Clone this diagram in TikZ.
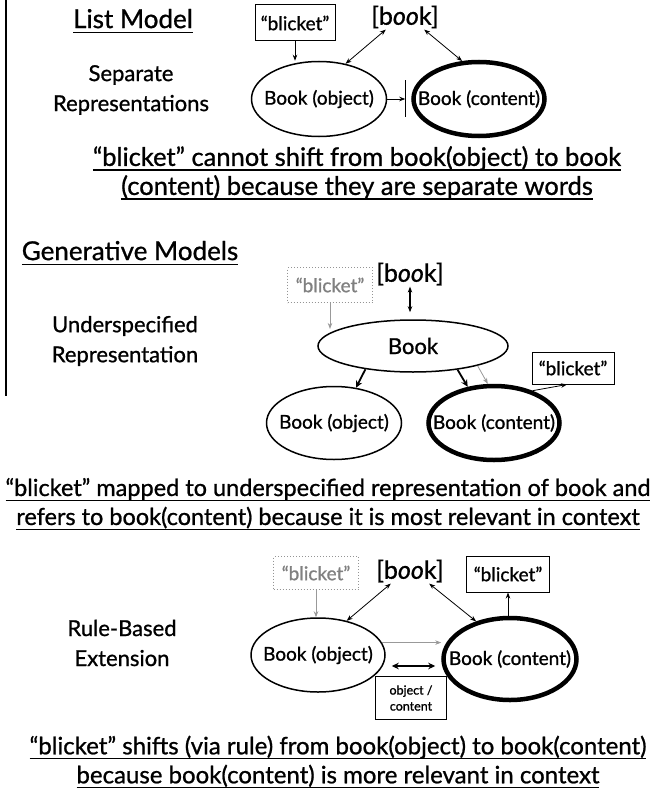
\documentclass[tikz,border=0pt]{standalone}
\usepackage{fontspec}
\setmainfont{Lato}[FakeBold=0.9]
\usetikzlibrary{shapes.geometric,arrows.meta,calc}

% underline at a fixed depth below the baseline
\newlength{\ulwidth}
\newcommand{\uln}[1]{\settowidth{\ulwidth}{#1}\rlap{\rule[-5pt]{\ulwidth}{1.4pt}}#1}

\tikzset{
  heading/.style={font=\fontsize{26}{30}\selectfont, align=center},
  label/.style={font=\fontsize{22}{30}\selectfont, align=center},
  captxt/.style={font=\fontsize{#1}{29}\selectfont, align=center},
  ell/.style={ellipse, draw, line width=1.5pt, inner xsep=-18pt, inner ysep=-4pt,
              font=\fontsize{19}{21}\selectfont},
  thickell/.style={ell, line width=4.5pt},
  word/.style={draw, line width=1pt, inner sep=0pt,
               font=\fontsize{19}{21}\selectfont},
  ghost/.style={word, draw=black!42, dotted, text=black!50},
  concept/.style={inner sep=1pt, font=\fontsize{25}{27}\selectfont},
  arr/.style={-{Stealth[length=6pt,width=4.5pt]}, line width=0.8pt},
  darr/.style={{Stealth[length=6pt,width=4.5pt]}-{Stealth[length=6pt,width=4.5pt]}, line width=0.8pt},
  garr/.style={arr, draw=black!40},
  heavy/.style={-{Stealth[length=7pt,width=6.5pt]}, line width=1.8pt},
}

\begin{document}
\begin{tikzpicture}[x=1pt, y=-1pt]
\useasboundingbox (0,0) rectangle (654,792);

% margin rule on the left
\draw[line width=1.4pt] (6,0) -- (6,396);

% ---------------- List model ----------------
\node[heading] (t1) at (133,21) {\uln{List Model}};
\node[label] (s1) at (131,90) {Separate\\Representations};

\node[word, minimum width=80pt, minimum height=36pt] (bl1) at (295,23) {“blicket”};
\node[concept] (bk1) at (405,17) {[b\textit{oo}k]};
\node[ell, minimum width=135pt, minimum height=75pt] (obj1) at (319,99) {Book (object)};
\node[thickell, minimum width=131pt, minimum height=74pt] (con1) at (479,99) {Book (content)};

\draw[arr] (bl1.south) -- (bl1.south |- obj1.north);
\draw[darr] ($(bk1.south)!0.55!(bk1.south west)$) -- (obj1.53);
\draw[darr] ($(bk1.south)!0.55!(bk1.south east)$) -- (con1.114);
\coordinate (stop1) at ($(obj1.east)+(18,0)$);
\draw[arr] (obj1.east) -- (stop1);
\draw[line width=1.4pt] ($(stop1)+(0,-19)$) -- ($(stop1)+(0,18)$);

\node[captxt=25.5] (c1) at (357,173) {\uln{“blicket” cannot shift from book(object) to book}\\\uln{(content) because they are separate words}};

% ---------------- Generative models ----------------
\node[heading] (t2) at (130,253) {\uln{Generative Models}};
\node[label] (s2) at (125,341) {Underspecified\\Representation};

\node[ghost, minimum width=85pt, minimum height=35pt] (gbl2) at (330,285) {“blicket”};
\node[concept] (bk2) at (410,274) {[b\textit{oo}k]};
\node[ell, font=\fontsize{22}{24}\selectfont, minimum width=190pt, minimum height=52pt] (bookU) at (413,346) {Book};
\node[ell, minimum width=135pt, minimum height=73pt] (obj2) at (334,423) {Book (object)};
\node[thickell, minimum width=131pt, minimum height=74pt] (con2) at (494,423) {Book (content)};
\node[word, minimum width=82pt, minimum height=32pt] (bl2) at (573,368) {“blicket”};

\draw[darr, line width=1.2pt, shorten >=7pt] (bk2.south) -- (bk2.south |- bookU.north);
\draw[garr] (gbl2.south) -- (gbl2.south |- bookU.167);
\draw[heavy] (bookU.206) -- (obj2.58);
\draw[heavy] (bookU.332) -- (con2.126);
\draw[garr] (bookU.343) -- (con2.99);
\draw[arr] (con2.40) -- (bl2.-110);

\node[captxt=23.5] (c2) at (328,504) {\uln{“blicket” mapped to underspecified representation of book and}\\\uln{refers to book(content) because it is most relevant in context}};

% ---------------- Rule-based extension ----------------
\node[label] (s3) at (122,643) {Rule-Based\\Extension};

\node[ghost, minimum width=85pt, minimum height=33pt] (gbl3) at (316,573) {“blicket”};
\node[concept] (bk3) at (410,571) {[b\textit{oo}k]};
\node[word, minimum width=83pt, minimum height=36pt] (bl3) at (508,574) {“blicket”};
\node[ell, minimum width=134pt, minimum height=74pt] (obj3) at (318,655) {Book (object)};
\node[thickell, minimum width=133pt, minimum height=82pt] (con3) at (510,659) {Book (content)};
\node[draw, line width=1pt, minimum width=71pt, minimum height=43pt, inner sep=0pt,
      align=center, font=\fontsize{12.5}{16}\selectfont] (rule) at (411,698) {object /\\content};

\draw[garr] (gbl3.south) -- (gbl3.south |- obj3.north);
\draw[darr] ($(bk3.south)!0.55!(bk3.south west)$) -- (obj3.50);
\draw[darr] ($(bk3.south)!0.55!(bk3.south east)$) -- (con3.132);
\draw[arr] (bl3.south |- con3.north) -- (bl3.south);
\draw[garr] (obj3.11) -- (obj3.11 -| con3.west);
\draw[{Stealth[length=7pt,width=6.5pt]}-{Stealth[length=7pt,width=6.5pt]}, line width=1.8pt]
  ([shift={(6,11)}]obj3.east) -- ([shift={(-6,7)}]con3.west);

\node[captxt=24] (c3) at (338,762) {\uln{“blicket” shifts (via rule) from book(object) to book(content)}\\\uln{because book(content) is more relevant in context}};
\end{tikzpicture}
\end{document}
